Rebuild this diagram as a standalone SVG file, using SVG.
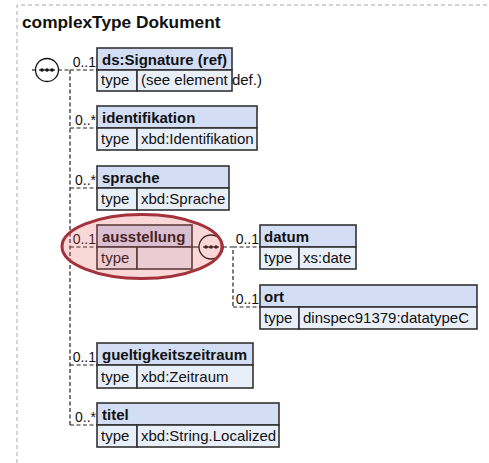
<svg xmlns="http://www.w3.org/2000/svg" width="489" height="463" viewBox="0 0 489 463">
<style>
text{font-family:"Liberation Sans",Arial,sans-serif;fill:#111}
.title{font-size:17.3px;font-weight:bold}
.hd{fill:#d3def5;stroke:#333;stroke-width:1.6}
.row{fill:#e9eff9;stroke:#333;stroke-width:1.6}
.name{font-size:15px;font-weight:bold}
.val{font-size:15px}
.card{font-size:14px;text-anchor:end}
.conn{fill:none;stroke:#222;stroke-width:1.2;stroke-dasharray:4,2.5}
.frame{fill:none;stroke:#aaa;stroke-width:1;stroke-dasharray:4,3}
.comp{fill:#fff;stroke:#111;stroke-width:1.3}
</style>
<path class="frame" d="M17,463 V5 H489"/>
<text class="title" x="22" y="28">complexType Dokument</text>

<g id="connectors">
  <line x1="32" y1="70" x2="36" y2="70" stroke="#222" stroke-width="1.2"/>
  <path class="conn" d="M58,70 H70 M70,70 V425 M70,70 H97 M70,128 H97 M70,188 H97 M70,247 H97 M70,365 H97 M70,425 H97"/>
  <line x1="192" y1="247" x2="199" y2="247" stroke="#222" stroke-width="1.2"/>
  <path class="conn" d="M223,247 H233 V307 M233,247 H260 M233,307 H260"/>
  <text class="card" x="96" y="67">0..1</text>
  <text class="card" x="96" y="125">0..*</text>
  <text class="card" x="96" y="185">0..*</text>
  <text class="card" x="96" y="244">0..1</text>
  <text class="card" x="96" y="362">0..1</text>
  <text class="card" x="96" y="422">0..*</text>
  <text class="card" x="259" y="244">0..1</text>
  <text class="card" x="259" y="304">0..1</text>
</g>

<g id="seq1">
  <circle class="comp" cx="47" cy="70" r="11.5"/>
  <line x1="39" y1="70" x2="55" y2="70" stroke="#111" stroke-width="1.2"/>
  <circle cx="42" cy="70" r="1.8" fill="#111"/><circle cx="47" cy="70" r="1.8" fill="#111"/><circle cx="52" cy="70" r="1.8" fill="#111"/>
</g>

<g id="ds-signature">
  <rect class="hd" x="97" y="48" width="135" height="22"/>
  <rect class="row" x="97" y="70" width="40" height="21"/>
  <rect class="row" x="137" y="70" width="95" height="21"/>
  <text class="name" x="102" y="65">ds:Signature (ref)</text>
  <text class="val" x="101" y="85">type</text>
  <text class="val" x="141" y="85">(see element def.)</text>
</g>

<g id="identifikation">
  <rect class="hd" x="97" y="106" width="160" height="22"/>
  <rect class="row" x="97" y="128" width="40" height="22"/>
  <rect class="row" x="137" y="128" width="120" height="22"/>
  <text class="name" x="102" y="123">identifikation</text>
  <text class="val" x="101" y="144">type</text>
  <text class="val" x="141" y="144">xbd:Identifikation</text>
</g>

<g id="sprache">
  <rect class="hd" x="97" y="166" width="132" height="22"/>
  <rect class="row" x="97" y="188" width="40" height="22"/>
  <rect class="row" x="137" y="188" width="92" height="22"/>
  <text class="name" x="102" y="183">sprache</text>
  <text class="val" x="101" y="204">type</text>
  <text class="val" x="141" y="204">xbd:Sprache</text>
</g>

<g id="ausstellung">
  <rect class="hd" x="97" y="225" width="95" height="22"/>
  <rect class="row" x="97" y="247" width="40" height="22"/>
  <rect class="row" x="137" y="247" width="55" height="22"/>
  <text class="name" x="102" y="242">ausstellung</text>
  <text class="val" x="101" y="263">type</text>
</g>

<g id="seq2">
  <circle class="comp" cx="211" cy="247" r="12"/>
  <line x1="203" y1="247" x2="219" y2="247" stroke="#111" stroke-width="1.2"/>
  <circle cx="206" cy="247" r="1.8" fill="#111"/><circle cx="211" cy="247" r="1.8" fill="#111"/><circle cx="216" cy="247" r="1.8" fill="#111"/>
</g>

<g id="highlight">
  <ellipse cx="142" cy="246.5" rx="80" ry="32" fill="#ee5a5a" fill-opacity="0.24" stroke="#a3323c" stroke-width="3"/>
</g>

<g id="datum">
  <rect class="hd" x="260" y="225" width="96" height="22"/>
  <rect class="row" x="260" y="247" width="39" height="22"/>
  <rect class="row" x="299" y="247" width="57" height="22"/>
  <text class="name" x="264" y="242">datum</text>
  <text class="val" x="264" y="263">type</text>
  <text class="val" x="303" y="263">xs:date</text>
</g>

<g id="ort">
  <rect class="hd" x="260" y="285" width="217" height="22"/>
  <rect class="row" x="260" y="307" width="39" height="22"/>
  <rect class="row" x="299" y="307" width="178" height="22"/>
  <text class="name" x="264" y="302">ort</text>
  <text class="val" x="264" y="323">type</text>
  <text class="val" x="303" y="323">dinspec91379:datatypeC</text>
</g>

<g id="gueltigkeitszeitraum">
  <rect class="hd" x="97" y="343" width="156" height="22"/>
  <rect class="row" x="97" y="365" width="40" height="23"/>
  <rect class="row" x="137" y="365" width="116" height="23"/>
  <text class="name" x="102" y="360">gueltigkeitszeitraum</text>
  <text class="val" x="101" y="382">type</text>
  <text class="val" x="141" y="382">xbd:Zeitraum</text>
</g>

<g id="titel">
  <rect class="hd" x="97" y="403" width="182" height="22"/>
  <rect class="row" x="97" y="425" width="40" height="22"/>
  <rect class="row" x="137" y="425" width="142" height="22"/>
  <text class="name" x="102" y="420">titel</text>
  <text class="val" x="101" y="441">type</text>
  <text class="val" x="141" y="441">xbd:String.Localized</text>
</g>
</svg>
